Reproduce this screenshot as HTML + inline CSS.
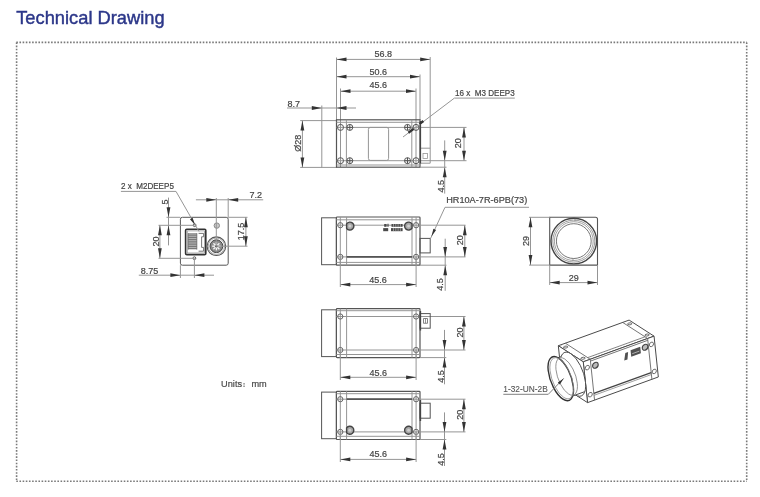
<!DOCTYPE html>
<html><head><meta charset="utf-8"><style>
html,body{margin:0;padding:0;background:#fff;width:760px;height:497px;overflow:hidden}
svg{display:block;font-family:"Liberation Sans", sans-serif;will-change:transform}
.title{position:absolute;left:16px;top:0;font-family:"Liberation Sans", sans-serif;}
</style></head><body>
<svg width="760" height="497" viewBox="0 0 760 497">
<text x="16.2" y="23.7" font-size="19" fill="#2c3789" stroke="#2c3789" stroke-width="0.45" textLength="148.5" lengthAdjust="spacingAndGlyphs">Technical Drawing</text>
<line x1="16.3" y1="42.4" x2="746.9" y2="42.4" stroke="#7a7a7a" stroke-width="1.6" stroke-dasharray="1.6 1.56"/>
<line x1="16.6" y1="42.4" x2="16.6" y2="481.2" stroke="#7a7a7a" stroke-width="1.6" stroke-dasharray="1.6 1.56"/>
<line x1="16.3" y1="481.2" x2="746.9" y2="481.2" stroke="#7a7a7a" stroke-width="1.6" stroke-dasharray="1.6 1.56"/>
<line x1="746.7" y1="42.4" x2="746.7" y2="481.2" stroke="#7a7a7a" stroke-width="1.6" stroke-dasharray="1.6 1.56"/>
<line x1="336.5" y1="59.4" x2="430.2" y2="59.4" stroke="#959595" stroke-width="1.0"/>
<polygon points="336.50,59.40 346.50,57.50 346.50,61.30" fill="#333333"/>
<polygon points="430.20,59.40 420.20,61.30 420.20,57.50" fill="#333333"/>
<text transform="translate(383.2 56.9) scale(0.96 1)" font-size="9.4" text-anchor="middle" fill="#444444" stroke="#444444" stroke-width="0.2">56.8</text>
<line x1="336.5" y1="76.7" x2="420.0" y2="76.7" stroke="#959595" stroke-width="1.0"/>
<polygon points="336.50,76.70 346.50,74.80 346.50,78.60" fill="#333333"/>
<polygon points="420.00,76.70 410.00,78.60 410.00,74.80" fill="#333333"/>
<text transform="translate(378.3 74.8) scale(0.96 1)" font-size="9.4" text-anchor="middle" fill="#444444" stroke="#444444" stroke-width="0.2">50.6</text>
<line x1="340.5" y1="91.2" x2="416.0" y2="91.2" stroke="#959595" stroke-width="1.0"/>
<polygon points="340.50,91.20 350.50,89.30 350.50,93.10" fill="#333333"/>
<polygon points="416.00,91.20 406.00,93.10 406.00,89.30" fill="#333333"/>
<text transform="translate(378.3 88.4) scale(0.96 1)" font-size="9.4" text-anchor="middle" fill="#444444" stroke="#444444" stroke-width="0.2">45.6</text>
<line x1="336.5" y1="57.5" x2="336.5" y2="120" stroke="#959595" stroke-width="1.0"/>
<line x1="430.2" y1="57" x2="430.2" y2="163.2" stroke="#959595" stroke-width="1.0"/>
<line x1="420" y1="74.5" x2="420" y2="120" stroke="#959595" stroke-width="1.0"/>
<line x1="340.5" y1="88.5" x2="340.5" y2="167" stroke="#959595" stroke-width="1.0"/>
<line x1="416" y1="88.5" x2="416" y2="167" stroke="#959595" stroke-width="1.0"/>
<line x1="287" y1="108" x2="356" y2="108" stroke="#959595" stroke-width="1.0"/>
<polygon points="321.80,108.00 311.80,109.90 311.80,106.10" fill="#333333"/>
<polygon points="336.50,108.00 346.50,106.10 346.50,109.90" fill="#333333"/>
<text transform="translate(287.4 106.6) scale(0.96 1)" font-size="9.4" text-anchor="start" fill="#444444" stroke="#444444" stroke-width="0.2">8.7</text>
<line x1="321.8" y1="105.5" x2="321.8" y2="120.6" stroke="#959595" stroke-width="1.0"/>
<rect x="321.8" y="120.6" width="14.70" height="46.80" rx="0" fill="none" stroke="#959595" stroke-width="1.0"/>
<line x1="300.2" y1="120.6" x2="322" y2="120.6" stroke="#959595" stroke-width="1.0"/>
<line x1="300.2" y1="167.4" x2="322" y2="167.4" stroke="#959595" stroke-width="1.0"/>
<line x1="302.4" y1="120.6" x2="302.4" y2="167.4" stroke="#959595" stroke-width="1.0"/>
<polygon points="302.40,120.60 304.30,130.60 300.50,130.60" fill="#333333"/>
<polygon points="302.40,167.40 300.50,157.40 304.30,157.40" fill="#333333"/>
<text transform="translate(301.04 143.30) rotate(-90) scale(0.96 1)" font-size="9.4" text-anchor="middle" fill="#444444" stroke="#444444" stroke-width="0.2">Ø28</text>
<rect x="336.5" y="119.8" width="83.50" height="47.40" rx="0" fill="none" stroke="#555555" stroke-width="1.2"/>
<line x1="336.5" y1="122.3" x2="420" y2="122.3" stroke="#959595" stroke-width="1.0"/>
<line x1="336.5" y1="165" x2="420" y2="165" stroke="#959595" stroke-width="1.0"/>
<line x1="346.4" y1="119.8" x2="346.4" y2="167.2" stroke="#959595" stroke-width="1.0"/>
<line x1="411.8" y1="119.8" x2="411.8" y2="167.2" stroke="#959595" stroke-width="1.0"/>
<line x1="336.5" y1="127.4" x2="466.5" y2="127.4" stroke="#959595" stroke-width="1.0"/>
<line x1="336.5" y1="160.7" x2="466.5" y2="160.7" stroke="#959595" stroke-width="1.0"/>
<circle cx="340.5" cy="127.4" r="3.0" fill="none" stroke="#555555" stroke-width="1.0"/>
<circle cx="416" cy="127.4" r="3.0" fill="none" stroke="#555555" stroke-width="1.0"/>
<circle cx="349.8" cy="127.4" r="3.0" fill="none" stroke="#555555" stroke-width="1.0"/>
<line x1="346.8" y1="127.4" x2="352.8" y2="127.4" stroke="#555555" stroke-width="1.0"/>
<line x1="349.8" y1="124.4" x2="349.8" y2="130.4" stroke="#555555" stroke-width="1.0"/>
<circle cx="407.5" cy="127.4" r="3.0" fill="none" stroke="#555555" stroke-width="1.0"/>
<line x1="404.5" y1="127.4" x2="410.5" y2="127.4" stroke="#555555" stroke-width="1.0"/>
<line x1="407.5" y1="124.4" x2="407.5" y2="130.4" stroke="#555555" stroke-width="1.0"/>
<circle cx="340.5" cy="160.7" r="3.0" fill="none" stroke="#555555" stroke-width="1.0"/>
<circle cx="416" cy="160.7" r="3.0" fill="none" stroke="#555555" stroke-width="1.0"/>
<circle cx="349.8" cy="160.7" r="3.0" fill="none" stroke="#555555" stroke-width="1.0"/>
<line x1="346.8" y1="160.7" x2="352.8" y2="160.7" stroke="#555555" stroke-width="1.0"/>
<line x1="349.8" y1="157.7" x2="349.8" y2="163.7" stroke="#555555" stroke-width="1.0"/>
<circle cx="407.5" cy="160.7" r="3.0" fill="none" stroke="#555555" stroke-width="1.0"/>
<line x1="404.5" y1="160.7" x2="410.5" y2="160.7" stroke="#555555" stroke-width="1.0"/>
<line x1="407.5" y1="157.7" x2="407.5" y2="163.7" stroke="#555555" stroke-width="1.0"/>
<rect x="368.4" y="127.4" width="20.20" height="33.00" rx="2" fill="none" stroke="#959595" stroke-width="1.0"/>
<line x1="420" y1="148.2" x2="430.2" y2="148.2" stroke="#959595" stroke-width="1.0"/>
<line x1="420" y1="163.2" x2="430.2" y2="163.2" stroke="#959595" stroke-width="1.0"/>
<rect x="423" y="153.5" width="4.50" height="5.00" rx="0" fill="none" stroke="#959595" stroke-width="0.8"/>
<line x1="420.4" y1="121" x2="420.4" y2="163.5" stroke="#444" stroke-width="1.4"/>
<line x1="464" y1="127.4" x2="464" y2="160.7" stroke="#959595" stroke-width="1.0"/>
<polygon points="464.00,127.40 465.90,137.40 462.10,137.40" fill="#333333"/>
<polygon points="464.00,160.70 462.10,150.70 465.90,150.70" fill="#333333"/>
<text transform="translate(461.34 143.30) rotate(-90) scale(0.96 1)" font-size="9.4" text-anchor="middle" fill="#444444" stroke="#444444" stroke-width="0.2">20</text>
<line x1="444.7" y1="140.4" x2="444.7" y2="193.6" stroke="#959595" stroke-width="1.0"/>
<polygon points="444.70,160.70 442.80,150.70 446.60,150.70" fill="#333333"/>
<polygon points="444.70,167.20 446.60,177.20 442.80,177.20" fill="#333333"/>
<line x1="420" y1="167.2" x2="446.5" y2="167.2" stroke="#959595" stroke-width="1.0"/>
<text transform="translate(443.94 186.30) rotate(-90) scale(0.96 1)" font-size="9.4" text-anchor="middle" fill="#444444" stroke="#444444" stroke-width="0.2">4.5</text>
<line x1="454.4" y1="98.1" x2="514.8" y2="98.1" stroke="#959595" stroke-width="1.0"/>
<line x1="454.4" y1="98.1" x2="403" y2="137" stroke="#959595" stroke-width="1.0"/>
<line x1="419.6" y1="123.9" x2="423.4" y2="121.0" stroke="#333" stroke-width="2.4"/>
<line x1="408.4" y1="132.8" x2="413.6" y2="128.9" stroke="#333" stroke-width="2.4"/>
<text x="455" y="95.8" font-size="8.7" text-anchor="start" fill="#444444" stroke="#444444" stroke-width="0.2" textLength="59.7" lengthAdjust="spacingAndGlyphs">16 x&#160; M3 DEEP3</text>
<rect x="180.4" y="217.3" width="47.80" height="47.90" rx="2" fill="none" stroke="#555555" stroke-width="1.0"/>
<rect x="185.6" y="229.3" width="20.20" height="25.30" rx="1.2" fill="none" stroke="#333" stroke-width="1.6"/>
<rect x="187.2" y="230.9" width="17.20" height="22.10" rx="0" fill="none" stroke="#888" stroke-width="0.7"/>
<rect x="188.2" y="233.2" width="8.6" height="16.4" fill="#c4c4c4"/>
<line x1="188.2" y1="234.0" x2="196.8" y2="234.0" stroke="#5a5a5a" stroke-width="0.8"/>
<line x1="188.2" y1="235.8" x2="196.8" y2="235.8" stroke="#5a5a5a" stroke-width="0.8"/>
<line x1="188.2" y1="237.6" x2="196.8" y2="237.6" stroke="#5a5a5a" stroke-width="0.8"/>
<line x1="188.2" y1="239.4" x2="196.8" y2="239.4" stroke="#5a5a5a" stroke-width="0.8"/>
<line x1="188.2" y1="241.2" x2="196.8" y2="241.2" stroke="#5a5a5a" stroke-width="0.8"/>
<line x1="188.2" y1="243.0" x2="196.8" y2="243.0" stroke="#5a5a5a" stroke-width="0.8"/>
<line x1="188.2" y1="244.8" x2="196.8" y2="244.8" stroke="#5a5a5a" stroke-width="0.8"/>
<line x1="188.2" y1="246.6" x2="196.8" y2="246.6" stroke="#5a5a5a" stroke-width="0.8"/>
<line x1="188.2" y1="248.4" x2="196.8" y2="248.4" stroke="#5a5a5a" stroke-width="0.8"/>
<line x1="188.2" y1="233.2" x2="188.2" y2="249.6" stroke="#666" stroke-width="0.8"/>
<line x1="196.8" y1="233.2" x2="196.8" y2="249.6" stroke="#666" stroke-width="0.8"/>
<path d="M198.6,233.4 L203.6,233.4 L203.6,236.8 L201.6,236.8 L201.6,247.4 L203.6,247.4 L203.6,251.2 L198.6,251.2" fill="none" stroke="#666" stroke-width="0.9"/>
<circle cx="194.6" cy="225.2" r="1.4" fill="none" stroke="#555555" stroke-width="1.0"/>
<circle cx="194.4" cy="258.2" r="1.4" fill="none" stroke="#555555" stroke-width="1.0"/>
<circle cx="216.8" cy="225.6" r="2.7" fill="#c8c8c8" stroke="#888" stroke-width="1.0"/>
<circle cx="216.4" cy="246.2" r="9.3" fill="none" stroke="#555555" stroke-width="1.1"/>
<circle cx="216.4" cy="246.2" r="8.2" fill="none" stroke="#959595" stroke-width="0.8"/>
<circle cx="216.4" cy="246.2" r="6.4" fill="#8a8a8a" stroke="#444" stroke-width="1.0"/>
<line x1="212.20000000000002" y1="246.2" x2="220.6" y2="246.2" stroke="#f4f4f4" stroke-width="1.4"/>
<line x1="213.4301515190165" y1="243.2301515190165" x2="219.3698484809835" y2="249.1698484809835" stroke="#f4f4f4" stroke-width="1.4"/>
<line x1="216.4" y1="242.0" x2="216.4" y2="250.39999999999998" stroke="#f4f4f4" stroke-width="1.4"/>
<line x1="219.3698484809835" y1="243.2301515190165" x2="213.4301515190165" y2="249.1698484809835" stroke="#f4f4f4" stroke-width="1.4"/>
<circle cx="216.4" cy="246.2" r="1.3" fill="#555" stroke="none" stroke-width="1.0"/>
<line x1="195.9" y1="199.8" x2="263.2" y2="199.8" stroke="#959595" stroke-width="1.0"/>
<polygon points="216.30,199.80 206.30,201.70 206.30,197.90" fill="#333333"/>
<polygon points="228.20,199.80 238.20,197.90 238.20,201.70" fill="#333333"/>
<text transform="translate(249.4 198.1) scale(0.96 1)" font-size="9.4" text-anchor="start" fill="#444444" stroke="#444444" stroke-width="0.2">7.2</text>
<line x1="216.3" y1="198" x2="216.3" y2="246.2" stroke="#959595" stroke-width="1.0"/>
<line x1="228.2" y1="198" x2="228.2" y2="217.3" stroke="#959595" stroke-width="1.0"/>
<line x1="228.2" y1="217.3" x2="247.5" y2="217.3" stroke="#959595" stroke-width="1.0"/>
<line x1="216.4" y1="246.2" x2="247.5" y2="246.2" stroke="#959595" stroke-width="1.0"/>
<line x1="245.9" y1="217.3" x2="245.9" y2="246.2" stroke="#959595" stroke-width="1.0"/>
<polygon points="245.90,217.30 247.80,227.30 244.00,227.30" fill="#333333"/>
<polygon points="245.90,246.20 244.00,236.20 247.80,236.20" fill="#333333"/>
<text transform="translate(243.94 231.50) rotate(-90) scale(0.96 1)" font-size="9.4" text-anchor="middle" fill="#444444" stroke="#444444" stroke-width="0.2">17.5</text>
<line x1="168.5" y1="197.6" x2="168.5" y2="245.4" stroke="#959595" stroke-width="1.0"/>
<polygon points="168.50,217.30 166.60,207.30 170.40,207.30" fill="#333333"/>
<polygon points="168.50,225.30 170.40,235.30 166.60,235.30" fill="#333333"/>
<line x1="166.5" y1="217.3" x2="180.4" y2="217.3" stroke="#959595" stroke-width="1.0"/>
<line x1="158.5" y1="225.3" x2="194.6" y2="225.3" stroke="#959595" stroke-width="1.0"/>
<text transform="translate(167.54 202.00) rotate(-90) scale(0.96 1)" font-size="9.4" text-anchor="middle" fill="#444444" stroke="#444444" stroke-width="0.2">5</text>
<line x1="159.9" y1="225.3" x2="159.9" y2="258.3" stroke="#959595" stroke-width="1.0"/>
<polygon points="159.90,225.30 161.80,235.30 158.00,235.30" fill="#333333"/>
<polygon points="159.90,258.30 158.00,248.30 161.80,248.30" fill="#333333"/>
<text transform="translate(158.94 241.60) rotate(-90) scale(0.96 1)" font-size="9.4" text-anchor="middle" fill="#444444" stroke="#444444" stroke-width="0.2">20</text>
<line x1="158.5" y1="258.3" x2="194.4" y2="258.3" stroke="#959595" stroke-width="1.0"/>
<line x1="138.8" y1="275.2" x2="214" y2="275.2" stroke="#959595" stroke-width="1.0"/>
<polygon points="180.40,275.20 170.40,277.10 170.40,273.30" fill="#333333"/>
<polygon points="194.40,275.20 204.40,273.30 204.40,277.10" fill="#333333"/>
<text transform="translate(140.8 274) scale(0.96 1)" font-size="9.4" text-anchor="start" fill="#444444" stroke="#444444" stroke-width="0.2">8.75</text>
<line x1="180.4" y1="265.2" x2="180.4" y2="278" stroke="#959595" stroke-width="1.0"/>
<line x1="194.4" y1="258.3" x2="194.4" y2="278" stroke="#959595" stroke-width="1.0"/>
<line x1="120.9" y1="191.4" x2="176" y2="191.4" stroke="#959595" stroke-width="1.0"/>
<line x1="176" y1="191.4" x2="199" y2="231.5" stroke="#959595" stroke-width="1.0"/>
<polygon points="195.00,225.00 189.98,219.23 192.59,217.74" fill="#333333"/>
<text x="120.9" y="189.3" font-size="8.6" text-anchor="start" fill="#444444" stroke="#444444" stroke-width="0.2" textLength="53" lengthAdjust="spacingAndGlyphs">2 x&#160; M2DEEP5</text>
<rect x="321.6" y="217.8" width="14.80" height="46.90" rx="0" fill="none" stroke="#555555" stroke-width="1.0"/>
<rect x="336.4" y="217" width="83.60" height="48.20" rx="0.8" fill="none" stroke="#555555" stroke-width="1.2"/>
<line x1="336.4" y1="219.8" x2="420" y2="219.8" stroke="#959595" stroke-width="1.0"/>
<line x1="336.4" y1="262.4" x2="420" y2="262.4" stroke="#959595" stroke-width="1.0"/>
<line x1="346.6" y1="217" x2="346.6" y2="265.2" stroke="#959595" stroke-width="1.0"/>
<line x1="412.0" y1="217" x2="412.0" y2="265.2" stroke="#959595" stroke-width="1.0"/>
<line x1="340.3" y1="217" x2="340.3" y2="265.2" stroke="#959595" stroke-width="1.0"/>
<line x1="416.1" y1="217" x2="416.1" y2="265.2" stroke="#959595" stroke-width="1.0"/>
<line x1="336.4" y1="225.2" x2="465.5" y2="225.2" stroke="#959595" stroke-width="1.0"/>
<line x1="336.4" y1="256.9" x2="465.5" y2="256.9" stroke="#959595" stroke-width="1.0"/>
<line x1="346.6" y1="256.9" x2="412.0" y2="256.9" stroke="#555" stroke-width="1.7"/>
<path d="M346.6,223.84 A4.0,4.0 0 1,1 346.6,228.36 Z" fill="#a8a8a8" stroke="#444" stroke-width="1.4"/>
<circle cx="349.9" cy="226.1" r="1.5" fill="#cfcfcf" stroke="none" stroke-width="1.0"/>
<path d="M412.0,223.99 A4.0,4.0 0 1,0 412.0,228.21 Z" fill="#a8a8a8" stroke="#444" stroke-width="1.4"/>
<circle cx="408.6" cy="226.1" r="1.5" fill="#cfcfcf" stroke="none" stroke-width="1.0"/>
<circle cx="340.3" cy="225.2" r="2.6" fill="none" stroke="#666" stroke-width="1.0"/>
<circle cx="416.1" cy="225.2" r="2.6" fill="none" stroke="#666" stroke-width="1.0"/>
<circle cx="340.3" cy="256.9" r="2.6" fill="none" stroke="#666" stroke-width="1.0"/>
<circle cx="416.1" cy="256.9" r="2.6" fill="none" stroke="#666" stroke-width="1.0"/>
<rect x="420" y="238.4" width="10.20" height="14.50" rx="0" fill="none" stroke="#555555" stroke-width="1.0"/>
<rect x="384.2" y="224.0" width="2.40" height="2.80" fill="#4a4a4a"/>
<rect x="387.4" y="223.8" width="1.20" height="3.00" fill="#4a4a4a"/>
<rect x="391.5" y="224.0" width="11.10" height="2.80" fill="#4a4a4a"/>
<rect x="383.2" y="228.1" width="5.00" height="3.10" fill="#4a4a4a"/>
<rect x="391.0" y="228.1" width="11.60" height="3.10" fill="#4a4a4a"/>
<line x1="393.5" y1="224.0" x2="393.5" y2="226.8" stroke="#c8c8c8" stroke-width="0.6"/>
<line x1="393.5" y1="228.1" x2="393.5" y2="231.2" stroke="#c8c8c8" stroke-width="0.6"/>
<line x1="395.8" y1="224.0" x2="395.8" y2="226.8" stroke="#c8c8c8" stroke-width="0.6"/>
<line x1="395.8" y1="228.1" x2="395.8" y2="231.2" stroke="#c8c8c8" stroke-width="0.6"/>
<line x1="398.1" y1="224.0" x2="398.1" y2="226.8" stroke="#c8c8c8" stroke-width="0.6"/>
<line x1="398.1" y1="228.1" x2="398.1" y2="231.2" stroke="#c8c8c8" stroke-width="0.6"/>
<line x1="400.4" y1="224.0" x2="400.4" y2="226.8" stroke="#c8c8c8" stroke-width="0.6"/>
<line x1="400.4" y1="228.1" x2="400.4" y2="231.2" stroke="#c8c8c8" stroke-width="0.6"/>
<line x1="340.3" y1="256.9" x2="340.3" y2="287" stroke="#959595" stroke-width="1.0"/>
<line x1="416.1" y1="256.9" x2="416.1" y2="287" stroke="#959595" stroke-width="1.0"/>
<line x1="340.3" y1="284.6" x2="416.1" y2="284.6" stroke="#959595" stroke-width="1.0"/>
<polygon points="340.30,284.60 350.30,282.70 350.30,286.50" fill="#333333"/>
<polygon points="416.10,284.60 406.10,286.50 406.10,282.70" fill="#333333"/>
<text transform="translate(378 282.6) scale(0.96 1)" font-size="9.4" text-anchor="middle" fill="#444444" stroke="#444444" stroke-width="0.2">45.6</text>
<line x1="464.8" y1="225.2" x2="464.8" y2="256.9" stroke="#959595" stroke-width="1.0"/>
<polygon points="464.80,225.20 466.70,235.20 462.90,235.20" fill="#333333"/>
<polygon points="464.80,256.90 462.90,246.90 466.70,246.90" fill="#333333"/>
<text transform="translate(462.84 240.30) rotate(-90) scale(0.96 1)" font-size="9.4" text-anchor="middle" fill="#444444" stroke="#444444" stroke-width="0.2">20</text>
<line x1="445.2" y1="238.7" x2="445.2" y2="290.8" stroke="#959595" stroke-width="1.0"/>
<polygon points="445.20,256.90 443.30,246.90 447.10,246.90" fill="#333333"/>
<polygon points="445.20,265.20 447.10,275.20 443.30,275.20" fill="#333333"/>
<line x1="420" y1="265.2" x2="446.5" y2="265.2" stroke="#959595" stroke-width="1.0"/>
<text transform="translate(442.54 284.50) rotate(-90) scale(0.96 1)" font-size="9.4" text-anchor="middle" fill="#444444" stroke="#444444" stroke-width="0.2">4.5</text>
<line x1="445" y1="207.3" x2="529" y2="207.3" stroke="#959595" stroke-width="1.0"/>
<line x1="445" y1="207.3" x2="430.6" y2="238.4" stroke="#959595" stroke-width="1.0"/>
<polygon points="431.40,236.60 433.40,228.71 436.12,229.97" fill="#333333"/>
<text x="446.2" y="203.1" font-size="9.3" text-anchor="start" fill="#444444" stroke="#444444" stroke-width="0.2" textLength="81" lengthAdjust="spacingAndGlyphs">HR10A-7R-6PB(73)</text>
<rect x="321.6" y="309.8" width="14.80" height="46.80" rx="0" fill="none" stroke="#555555" stroke-width="1.0"/>
<rect x="336.4" y="308.7" width="83.60" height="48.90" rx="0.8" fill="none" stroke="#555555" stroke-width="1.2"/>
<line x1="336.4" y1="310.7" x2="420" y2="310.7" stroke="#959595" stroke-width="1.0"/>
<line x1="336.4" y1="354.5" x2="420" y2="354.5" stroke="#959595" stroke-width="1.0"/>
<line x1="346.6" y1="308.7" x2="346.6" y2="357.6" stroke="#959595" stroke-width="1.0"/>
<line x1="412.0" y1="308.7" x2="412.0" y2="357.6" stroke="#959595" stroke-width="1.0"/>
<line x1="340.3" y1="308.7" x2="340.3" y2="357.6" stroke="#959595" stroke-width="1.0"/>
<line x1="416.1" y1="308.7" x2="416.1" y2="357.6" stroke="#959595" stroke-width="1.0"/>
<line x1="336.4" y1="316.5" x2="465.5" y2="316.5" stroke="#959595" stroke-width="1.0"/>
<line x1="336.4" y1="350.0" x2="465.5" y2="350.0" stroke="#959595" stroke-width="1.0"/>
<line x1="346.6" y1="-100" x2="412.0" y2="-100" stroke="#555" stroke-width="1.7"/>
<circle cx="340.3" cy="316.5" r="2.6" fill="none" stroke="#666" stroke-width="1.0"/>
<circle cx="416.1" cy="316.5" r="2.6" fill="none" stroke="#666" stroke-width="1.0"/>
<circle cx="340.3" cy="350.0" r="2.6" fill="none" stroke="#666" stroke-width="1.0"/>
<circle cx="416.1" cy="350.0" r="2.6" fill="none" stroke="#666" stroke-width="1.0"/>
<rect x="420" y="313.6" width="10.20" height="14.60" rx="0" fill="none" stroke="#555555" stroke-width="1.0"/>
<line x1="340.3" y1="350" x2="340.3" y2="380" stroke="#959595" stroke-width="1.0"/>
<line x1="416.1" y1="350" x2="416.1" y2="380" stroke="#959595" stroke-width="1.0"/>
<line x1="340.3" y1="377.3" x2="416.1" y2="377.3" stroke="#959595" stroke-width="1.0"/>
<polygon points="340.30,377.30 350.30,375.40 350.30,379.20" fill="#333333"/>
<polygon points="416.10,377.30 406.10,379.20 406.10,375.40" fill="#333333"/>
<text transform="translate(378.2 375.6) scale(0.96 1)" font-size="9.4" text-anchor="middle" fill="#444444" stroke="#444444" stroke-width="0.2">45.6</text>
<line x1="463.9" y1="316.5" x2="463.9" y2="350.0" stroke="#959595" stroke-width="1.0"/>
<polygon points="463.90,316.50 465.80,326.50 462.00,326.50" fill="#333333"/>
<polygon points="463.90,350.00 462.00,340.00 465.80,340.00" fill="#333333"/>
<text transform="translate(462.84 332.60) rotate(-90) scale(0.96 1)" font-size="9.4" text-anchor="middle" fill="#444444" stroke="#444444" stroke-width="0.2">20</text>
<line x1="444.5" y1="329.9" x2="444.5" y2="384.3" stroke="#959595" stroke-width="1.0"/>
<polygon points="444.50,350.00 442.60,340.00 446.40,340.00" fill="#333333"/>
<polygon points="444.50,357.60 446.40,367.60 442.60,367.60" fill="#333333"/>
<line x1="420" y1="357.6" x2="446.3" y2="357.6" stroke="#959595" stroke-width="1.0"/>
<text transform="translate(444.14 376.60) rotate(-90) scale(0.96 1)" font-size="9.4" text-anchor="middle" fill="#444444" stroke="#444444" stroke-width="0.2">4.5</text>
<rect x="423.6" y="318.6" width="3.80" height="4.60" rx="0" fill="none" stroke="#666" stroke-width="0.8"/>
<line x1="425.5" y1="318.6" x2="425.5" y2="323.2" stroke="#666" stroke-width="0.7"/>
<line x1="420.4" y1="311" x2="420.4" y2="330.5" stroke="#444" stroke-width="1.5"/>
<rect x="321.6" y="392.1" width="14.80" height="46.60" rx="0" fill="none" stroke="#555555" stroke-width="1.0"/>
<rect x="336.4" y="391.3" width="83.60" height="48.20" rx="0.8" fill="none" stroke="#555555" stroke-width="1.2"/>
<line x1="336.4" y1="393.7" x2="420" y2="393.7" stroke="#959595" stroke-width="1.0"/>
<line x1="336.4" y1="436.3" x2="420" y2="436.3" stroke="#959595" stroke-width="1.0"/>
<line x1="346.6" y1="391.3" x2="346.6" y2="439.5" stroke="#959595" stroke-width="1.0"/>
<line x1="412.0" y1="391.3" x2="412.0" y2="439.5" stroke="#959595" stroke-width="1.0"/>
<line x1="340.3" y1="391.3" x2="340.3" y2="439.5" stroke="#959595" stroke-width="1.0"/>
<line x1="416.1" y1="391.3" x2="416.1" y2="439.5" stroke="#959595" stroke-width="1.0"/>
<line x1="336.4" y1="399.2" x2="465.5" y2="399.2" stroke="#959595" stroke-width="1.0"/>
<line x1="336.4" y1="431.9" x2="465.5" y2="431.9" stroke="#959595" stroke-width="1.0"/>
<line x1="346.6" y1="399.2" x2="412.0" y2="399.2" stroke="#555" stroke-width="1.7"/>
<path d="M346.6,427.80 A4.0,4.0 0 1,1 346.6,432.60 Z" fill="#a8a8a8" stroke="#444" stroke-width="1.4"/>
<circle cx="349.8" cy="430.2" r="1.5" fill="#cfcfcf" stroke="none" stroke-width="1.0"/>
<path d="M412.0,428.09 A4.0,4.0 0 1,0 412.0,432.31 Z" fill="#a8a8a8" stroke="#444" stroke-width="1.4"/>
<circle cx="408.6" cy="430.2" r="1.5" fill="#cfcfcf" stroke="none" stroke-width="1.0"/>
<circle cx="340.3" cy="399.2" r="2.6" fill="none" stroke="#666" stroke-width="1.0"/>
<circle cx="416.1" cy="399.2" r="2.6" fill="none" stroke="#666" stroke-width="1.0"/>
<circle cx="340.3" cy="431.9" r="2.6" fill="none" stroke="#666" stroke-width="1.0"/>
<circle cx="416.1" cy="431.9" r="2.6" fill="none" stroke="#666" stroke-width="1.0"/>
<rect x="420" y="403.2" width="10.20" height="15.00" rx="0" fill="none" stroke="#555555" stroke-width="1.0"/>
<line x1="340.3" y1="431.9" x2="340.3" y2="462" stroke="#959595" stroke-width="1.0"/>
<line x1="416.1" y1="431.9" x2="416.1" y2="462" stroke="#959595" stroke-width="1.0"/>
<line x1="340.3" y1="459.4" x2="416.1" y2="459.4" stroke="#959595" stroke-width="1.0"/>
<polygon points="340.30,459.40 350.30,457.50 350.30,461.30" fill="#333333"/>
<polygon points="416.10,459.40 406.10,461.30 406.10,457.50" fill="#333333"/>
<text transform="translate(378.2 457.4) scale(0.96 1)" font-size="9.4" text-anchor="middle" fill="#444444" stroke="#444444" stroke-width="0.2">45.6</text>
<line x1="463.9" y1="399.2" x2="463.9" y2="431.9" stroke="#959595" stroke-width="1.0"/>
<polygon points="463.90,399.20 465.80,409.20 462.00,409.20" fill="#333333"/>
<polygon points="463.90,431.90 462.00,421.90 465.80,421.90" fill="#333333"/>
<text transform="translate(462.84 414.70) rotate(-90) scale(0.96 1)" font-size="9.4" text-anchor="middle" fill="#444444" stroke="#444444" stroke-width="0.2">20</text>
<line x1="444.5" y1="412.4" x2="444.5" y2="466" stroke="#959595" stroke-width="1.0"/>
<polygon points="444.50,431.90 442.60,421.90 446.40,421.90" fill="#333333"/>
<polygon points="444.50,439.50 446.40,449.50 442.60,449.50" fill="#333333"/>
<line x1="420" y1="439.5" x2="446.3" y2="439.5" stroke="#959595" stroke-width="1.0"/>
<text transform="translate(444.14 459.40) rotate(-90) scale(0.96 1)" font-size="9.4" text-anchor="middle" fill="#444444" stroke="#444444" stroke-width="0.2">4.5</text>
<line x1="420.4" y1="400" x2="420.4" y2="421" stroke="#444" stroke-width="1.5"/>
<path d="M549.7,217.3 L595.5,217.3 Q597.5,217.3 597.5,219.3 L597.5,265.1 L549.7,265.1 Z" fill="none" stroke="#555555" stroke-width="1.1"/>
<circle cx="573.8" cy="241.1" r="22.8" fill="none" stroke="#444" stroke-width="1.4"/>
<circle cx="573.8" cy="241.1" r="21.0" fill="none" stroke="#808080" stroke-width="0.8"/>
<circle cx="573.8" cy="241.1" r="19.4" fill="none" stroke="#8a8a8a" stroke-width="0.8"/>
<circle cx="573.8" cy="241.1" r="17.4" fill="none" stroke="#666" stroke-width="0.9"/>
<line x1="575" y1="218.8" x2="575" y2="221" stroke="#888" stroke-width="0.8"/>
<line x1="573" y1="258.5" x2="573" y2="261" stroke="#888" stroke-width="0.8"/>
<line x1="529" y1="217.3" x2="549.7" y2="217.3" stroke="#959595" stroke-width="1.0"/>
<line x1="529" y1="265.1" x2="549.7" y2="265.1" stroke="#959595" stroke-width="1.0"/>
<line x1="530.5" y1="217.3" x2="530.5" y2="265.1" stroke="#959595" stroke-width="1.0"/>
<polygon points="530.50,217.30 532.40,227.30 528.60,227.30" fill="#333333"/>
<polygon points="530.50,265.10 528.60,255.10 532.40,255.10" fill="#333333"/>
<text transform="translate(528.64 241.10) rotate(-90) scale(0.96 1)" font-size="9.4" text-anchor="middle" fill="#444444" stroke="#444444" stroke-width="0.2">29</text>
<line x1="549.7" y1="265.1" x2="549.7" y2="285" stroke="#959595" stroke-width="1.0"/>
<line x1="597.5" y1="265.1" x2="597.5" y2="285" stroke="#959595" stroke-width="1.0"/>
<line x1="549.7" y1="282.6" x2="597.5" y2="282.6" stroke="#959595" stroke-width="1.0"/>
<polygon points="549.70,282.60 559.70,280.70 559.70,284.50" fill="#333333"/>
<polygon points="597.50,282.60 587.50,284.50 587.50,280.70" fill="#333333"/>
<text transform="translate(573.7 280.6) scale(0.96 1)" font-size="9.4" text-anchor="middle" fill="#444444" stroke="#444444" stroke-width="0.2">29</text>
<polygon points="558.32,345.74 629.11,320.09 654.05,336.15 583.26,361.81" fill="#fff" stroke="#4a4a4a" stroke-width="1.0" stroke-linejoin="round"/>
<polygon points="583.26,361.81 654.05,336.15 658.34,376.98 587.55,402.64" fill="#fff" stroke="#4a4a4a" stroke-width="1.0" stroke-linejoin="round"/>
<polygon points="558.32,345.74 583.26,361.81 587.55,402.64 562.61,386.57" fill="#fff" stroke="#4a4a4a" stroke-width="1.0" stroke-linejoin="round"/>
<polyline points="565.32,343.20 590.26,359.27 594.55,400.10" fill="none" stroke="#666" stroke-width="0.9" stroke-linejoin="round"/>
<polyline points="622.67,322.42 647.61,338.48 651.91,379.32" fill="none" stroke="#666" stroke-width="0.9" stroke-linejoin="round"/>
<polyline points="561.35,345.16 560.84,344.83" fill="none" stroke="#666" stroke-width="0.8" stroke-linejoin="round"/>
<polyline points="587.68,357.61 645.03,336.82" fill="none" stroke="#777" stroke-width="0.9" stroke-linejoin="round"/>
<polyline points="590.45,361.10 647.81,340.31" fill="none" stroke="#666" stroke-width="0.9" stroke-linejoin="round"/>
<polyline points="593.84,393.34 651.20,372.56" fill="none" stroke="#444" stroke-width="1.3" stroke-linejoin="round"/>
<polyline points="594.04,395.32 651.40,374.53" fill="none" stroke="#888" stroke-width="0.8" stroke-linejoin="round"/>
<circle r="1.3" fill="none" stroke="#555" stroke-width="0.9" vector-effect="non-scaling-stroke" transform="matrix(1.399 -0.507 0.86 0.554 565.63 347.07)"/>
<circle r="1.3" fill="none" stroke="#555" stroke-width="0.9" vector-effect="non-scaling-stroke" transform="matrix(1.399 -0.507 0.86 0.554 583.01 358.26)"/>
<circle r="1.3" fill="none" stroke="#555" stroke-width="0.9" vector-effect="non-scaling-stroke" transform="matrix(1.399 -0.507 0.86 0.554 629.71 323.85)"/>
<circle r="1.3" fill="none" stroke="#555" stroke-width="0.9" vector-effect="non-scaling-stroke" transform="matrix(1.399 -0.507 0.86 0.554 647.08 335.04)"/>
<circle r="1.5" fill="none" stroke="#555" stroke-width="0.9" vector-effect="non-scaling-stroke" transform="matrix(1.399 -0.507 0.148 1.408 587.36 367.63)"/>
<circle r="1.5" fill="none" stroke="#555" stroke-width="0.9" vector-effect="non-scaling-stroke" transform="matrix(1.399 -0.507 0.148 1.408 590.20 394.66)"/>
<circle r="1.5" fill="none" stroke="#555" stroke-width="0.9" vector-effect="non-scaling-stroke" transform="matrix(1.399 -0.507 0.148 1.408 651.43 344.41)"/>
<circle r="1.5" fill="none" stroke="#555" stroke-width="0.9" vector-effect="non-scaling-stroke" transform="matrix(1.399 -0.507 0.148 1.408 654.27 371.44)"/>
<circle r="2.0" fill="#bbb" stroke="#444" stroke-width="1.1" vector-effect="non-scaling-stroke" transform="matrix(1.399 -0.507 0.148 1.408 595.39 365.30)"/>
<circle r="2.0" fill="#bbb" stroke="#444" stroke-width="1.1" vector-effect="non-scaling-stroke" transform="matrix(1.399 -0.507 0.148 1.408 645.06 347.30)"/>
<polygon points="630.56,350.36 640.22,346.87 640.90,353.34 631.24,356.84" fill="#505050"/>
<polyline points="632.22,353.71 639.36,351.12" stroke="#bbb" stroke-width="0.9" fill="none"/>
<polygon points="625.32,352.99 628.12,351.98 627.45,359.39 624.23,360.55" fill="#505050"/>
<circle r="14.6" fill="#fff" stroke="#4a4a4a" stroke-width="1.0" vector-effect="non-scaling-stroke" transform="matrix(0.86 0.554 0.148 1.408 572.94 374.19)"/>
<polygon points="561.03,356.75 548.86,361.16 572.67,396.03 584.84,391.62" fill="#fff" stroke="none"/>
<polyline points="561.03,356.75 548.86,361.16" fill="none" stroke="#4a4a4a" stroke-width="1.0" stroke-linejoin="round"/>
<polyline points="584.84,391.62 572.67,396.03" fill="none" stroke="#4a4a4a" stroke-width="1.0" stroke-linejoin="round"/>
<circle r="14.6" fill="#fff" stroke="#333" stroke-width="1.4" vector-effect="non-scaling-stroke" transform="matrix(0.86 0.554 0.148 1.408 560.76 378.60)"/>
<circle r="13.6" fill="none" stroke="#888" stroke-width="0.8" vector-effect="non-scaling-stroke" transform="matrix(0.86 0.554 0.148 1.408 561.74 378.25)"/>
<circle r="12.399999999999999" fill="none" stroke="#777" stroke-width="0.8" vector-effect="non-scaling-stroke" transform="matrix(0.86 0.554 0.148 1.408 566.64 376.47)"/>
<line x1="503.3" y1="394.3" x2="548.3" y2="394.3" stroke="#808080" stroke-width="1.0"/>
<line x1="548.3" y1="394.3" x2="563.7" y2="378.4" stroke="#808080" stroke-width="1.0"/>
<polygon points="563.70,378.40 559.82,384.39 557.82,382.44" fill="#333333"/>
<text x="503.3" y="391.7" font-size="8.4" fill="#555" stroke="#555" stroke-width="0.1" textLength="44.4" lengthAdjust="spacingAndGlyphs">1-32-UN-2B</text>
<text transform="translate(221.1 386.8) scale(1.0 1)" font-size="9.2" text-anchor="start" fill="#4a4a4a" stroke="#4a4a4a" stroke-width="0.2">Units</text>
<rect x="243.4" y="383.2" width="1.3" height="1.3" fill="#666"/><rect x="243.4" y="385.6" width="1.3" height="1.3" fill="#666"/>
<text transform="translate(251.4 386.8) scale(1.0 1)" font-size="9.2" text-anchor="start" fill="#4a4a4a" stroke="#4a4a4a" stroke-width="0.2">mm</text>
</svg>
</body></html>
